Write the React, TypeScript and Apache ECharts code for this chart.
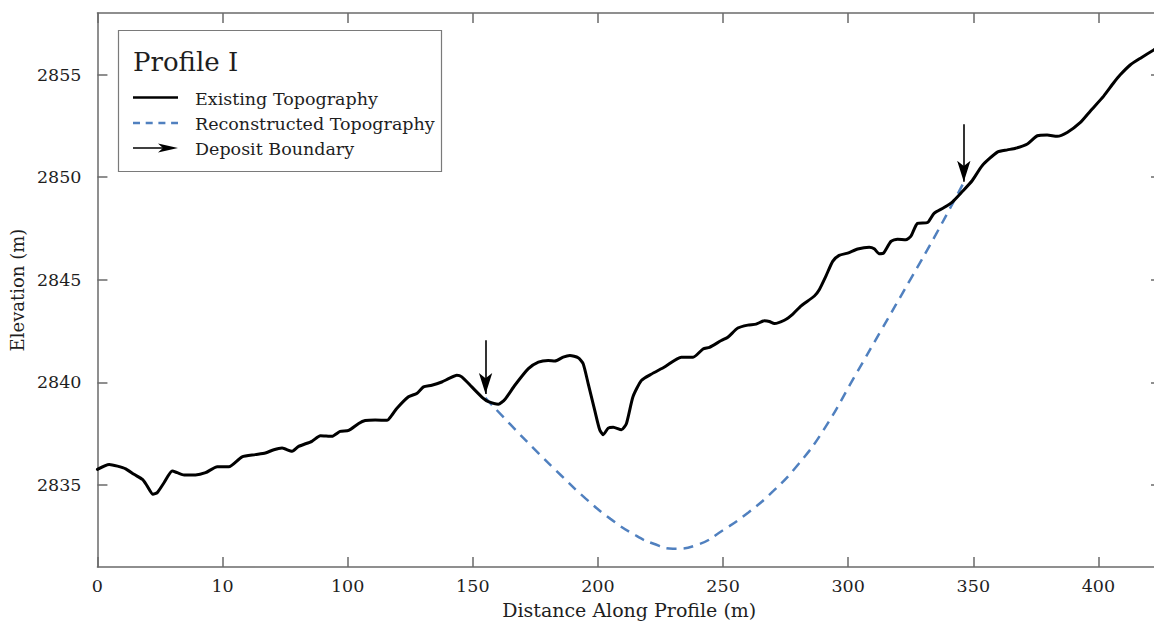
import React, { useEffect, useRef } from 'react';
import * as echarts from 'echarts';

// Existing topography (distance m, elevation m)
const existingX = [0, 4.7, 8.0, 11.3, 14.6, 18.0, 19.9, 22.2, 23.9, 26.6, 29.9, 31.9, 34.6, 39.2, 43.2, 47.9, 52.5, 57.8, 63.1, 67.1, 70.5, 73.8, 77.8, 80.4, 85.7, 89.1, 93.7, 97.0, 100.4, 104.4, 107.0, 111.0, 115.7, 117.7, 119.6, 124.3, 127.6, 130.3, 133.6, 137.6, 140.3, 143.6, 145.6, 149.6, 154.2, 156.2, 160.2, 162.8, 166.8, 172.2, 176.2, 180.1, 182.8, 186.1, 188.8, 192.1, 194.1, 196.1, 198.7, 200.7, 202.1, 204.1, 206.1, 209.4, 211.4, 214.0, 217.4, 221.3, 226.6, 233.3, 238.0, 242.0, 244.6, 249.3, 251.9, 255.9, 259.9, 263.2, 266.5, 268.5, 270.5, 274.5, 277.9, 281.2, 286.5, 288.5, 291.1, 293.8, 296.4, 299.8, 303.8, 308.4, 310.4, 312.4, 314.1, 317.1, 319.7, 323.0, 325.0, 327.7, 331.7, 334.3, 338.3, 341.7, 345.6, 349.6, 353.6, 359.6, 363.6, 366.9, 371.6, 375.6, 379.5, 383.5, 387.5, 392.8, 396.8, 402.1, 406.1, 408.8, 412.8, 416.8, 422.1, 425.0];
const existingY = [2835.76, 2836.0, 2835.92, 2835.79, 2835.52, 2835.27, 2834.95, 2834.55, 2834.63, 2835.11, 2835.68, 2835.6, 2835.49, 2835.49, 2835.6, 2835.89, 2835.89, 2836.37, 2836.48, 2836.56, 2836.72, 2836.8, 2836.64, 2836.88, 2837.13, 2837.4, 2837.37, 2837.61, 2837.66, 2838.0, 2838.14, 2838.17, 2838.15, 2838.41, 2838.73, 2839.3, 2839.46, 2839.78, 2839.86, 2840.02, 2840.18, 2840.35, 2840.27, 2839.78, 2839.22, 2839.06, 2838.94, 2839.17, 2839.86, 2840.67, 2840.99, 2841.07, 2841.04, 2841.23, 2841.31, 2841.2, 2840.91, 2839.94, 2838.65, 2837.69, 2837.45, 2837.77, 2837.82, 2837.69, 2838.0, 2839.3, 2840.1, 2840.4, 2840.75, 2841.23, 2841.23, 2841.63, 2841.71, 2842.04, 2842.2, 2842.65, 2842.79, 2842.84, 2843.0, 2842.97, 2842.87, 2843.03, 2843.33, 2843.73, 2844.21, 2844.53, 2845.18, 2845.9, 2846.19, 2846.3, 2846.5, 2846.59, 2846.51, 2846.27, 2846.3, 2846.87, 2846.98, 2846.95, 2847.11, 2847.75, 2847.79, 2848.24, 2848.52, 2848.8, 2849.3, 2849.84, 2850.57, 2851.22, 2851.33, 2851.41, 2851.62, 2852.02, 2852.05, 2851.99, 2852.18, 2852.67, 2853.23, 2853.95, 2854.6, 2855.0, 2855.48, 2855.8, 2856.2, 2856.4];

// Reconstructed topography
const reconX = [155, 165, 175, 185, 195, 205, 215, 222, 230, 240, 250, 260, 270, 280, 290, 302.4, 313, 325, 335, 346.2];
const reconY = [2839.25, 2837.95, 2836.7, 2835.5, 2834.35, 2833.35, 2832.55, 2832.15, 2831.9, 2832.1, 2832.8, 2833.65, 2834.7, 2836.0, 2837.65, 2840.25, 2842.5, 2845.05, 2847.2, 2849.75];

// Deposit boundary arrows (start and tip)
const arrowX = [155.1, 346.2];
const arrowTopY = [2842.05, 2852.58];
const arrowTipY = [2839.44, 2849.78];

const xTickValues = [0, 50, 100, 150, 200, 250, 300, 350, 400];
const xTickLabels = ['0', '10', '100', '150', '200', '250', '300', '350', '400'];
const yTickValues = [2835, 2840, 2845, 2850, 2855];
const yTickLabels = ['2835', '2840', '2845', '2850', '2855'];

const FONT = "'DejaVu Serif', serif";
const AXIS_COLOR = '#6a6a6a';
const TEXT_COLOR = '#1e1e1e';
const DASH_COLOR = '#5080bf';

export default function App() {
  const ref = useRef<HTMLDivElement>(null);
  useEffect(() => {
    if (!ref.current) return;
    const chart = echarts.init(ref.current, null, { renderer: 'svg' });
    const axisLine = { show: true, onZero: false, lineStyle: { color: AXIS_COLOR, width: 1.5 } };
    const tickStyle = { color: AXIS_COLOR, width: 1.5 };
    chart.setOption({
      animation: false,
      backgroundColor: '#fff',
      grid: { left: 95, top: 13, right: 19, bottom: 53 },
      xAxis: [
        {
          type: 'value', position: 'bottom', min: 0, max: 425,
          axisLine,
          axisTick: { show: true, inside: true, length: 10, customValues: xTickValues, lineStyle: tickStyle },
          axisLabel: {
            show: true, customValues: xTickValues, margin: 10,
            formatter: (v: number) => { const i = xTickValues.indexOf(v); return i >= 0 ? xTickLabels[i] : ''; },
            fontFamily: FONT, fontSize: 17.5, color: TEXT_COLOR,
          },
          splitLine: { show: false },
          name: 'Distance Along Profile (m)', nameLocation: 'middle', nameGap: 23,
          nameTextStyle: { fontFamily: FONT, fontSize: 19, color: TEXT_COLOR },
        },
        {
          type: 'value', position: 'top', min: 0, max: 425,
          axisLine,
          axisTick: { show: true, inside: true, length: 10, customValues: xTickValues, lineStyle: tickStyle },
          axisLabel: { show: false },
          splitLine: { show: false },
        },
      ],
      yAxis: [
        {
          type: 'value', position: 'left', min: 2831, max: 2858,
          axisLine,
          axisTick: { show: true, inside: true, length: 10, customValues: yTickValues, lineStyle: tickStyle },
          axisLabel: {
            show: true, customValues: yTickValues, margin: 16,
            formatter: (v: number) => { const i = yTickValues.indexOf(v); return i >= 0 ? yTickLabels[i] : ''; },
            fontFamily: FONT, fontSize: 17.5, color: TEXT_COLOR,
          },
          splitLine: { show: false },
          name: 'Elevation (m)', nameLocation: 'middle', nameGap: 61,
          nameTextStyle: { fontFamily: FONT, fontSize: 18, color: TEXT_COLOR },
        },
        {
          type: 'value', position: 'right', min: 2831, max: 2858,
          axisLine,
          axisTick: { show: true, inside: true, length: 10, customValues: yTickValues, lineStyle: tickStyle },
          axisLabel: { show: false },
          splitLine: { show: false },
        },
      ],
      series: [
        {
          type: 'line', name: 'Reconstructed Topography', xAxisIndex: 0, yAxisIndex: 0,
          data: reconX.map((x, i) => [x, reconY[i]]),
          showSymbol: false, smooth: true,
          lineStyle: { color: DASH_COLOR, width: 2.5, type: [10, 7] },
          z: 2,
        },
        {
          type: 'line', name: 'Existing Topography', xAxisIndex: 0, yAxisIndex: 0,
          data: existingX.map((x, i) => [x, existingY[i]]),
          showSymbol: false, smooth: 0.2,
          lineStyle: { color: '#000', width: 3, join: 'round', cap: 'round' },
          z: 3,
        },
        {
          type: 'lines', name: 'Deposit Boundary', coordinateSystem: 'cartesian2d', xAxisIndex: 0, yAxisIndex: 0,
          data: arrowX.map((x, i) => ({ coords: [[x, arrowTopY[i]], [x, arrowTipY[i]]] })),
          symbol: ['none', 'arrow'], symbolSize: [[10, 21], [10, 21]],
          lineStyle: { color: '#000', width: 1.6, opacity: 1 },
          z: 4,
        },
      ],
      graphic: [
        { type: 'rect', z: 100, shape: { x: 118.5, y: 30.5, width: 323, height: 141 }, style: { fill: '#fff', stroke: '#7a7a7a', lineWidth: 1.2 } },
        { type: 'text', z: 101, x: 133, y: 62, style: { text: 'Profile I', font: `26px ${FONT}`, fill: TEXT_COLOR, verticalAlign: 'middle' } },
        { type: 'line', z: 101, shape: { x1: 133, y1: 97.5, x2: 178, y2: 97.5 }, style: { stroke: '#000', lineWidth: 2.5 } },
        { type: 'text', z: 101, x: 195, y: 98.5, style: { text: 'Existing Topography', font: `17.5px ${FONT}`, fill: TEXT_COLOR, verticalAlign: 'middle' } },
        { type: 'line', z: 101, shape: { x1: 133, y1: 123, x2: 178, y2: 123 }, style: { stroke: DASH_COLOR, lineWidth: 2.5, lineDash: [7, 5.7] } },
        { type: 'text', z: 101, x: 195, y: 123.5, style: { text: 'Reconstructed Topography', font: `17.5px ${FONT}`, fill: TEXT_COLOR, verticalAlign: 'middle' } },
        { type: 'line', z: 101, shape: { x1: 133, y1: 148, x2: 166, y2: 148 }, style: { stroke: '#000', lineWidth: 1.5 } },
        { type: 'polygon', z: 101, shape: { points: [[178, 148], [158, 143.5], [163, 148], [158, 152.5]] }, style: { fill: '#000' } },
        { type: 'text', z: 101, x: 195, y: 148.5, style: { text: 'Deposit Boundary', font: `17.5px ${FONT}`, fill: TEXT_COLOR, verticalAlign: 'middle' } },
      ],
    });
    return () => chart.dispose();
  }, []);
  return (
    <div style={{ position: 'fixed', left: 0, top: 0, width: 1154, height: 624, overflow: 'hidden', background: '#fff' }}>
      <div ref={ref} style={{ width: 1180, height: 624 }} />
    </div>
  );
}
